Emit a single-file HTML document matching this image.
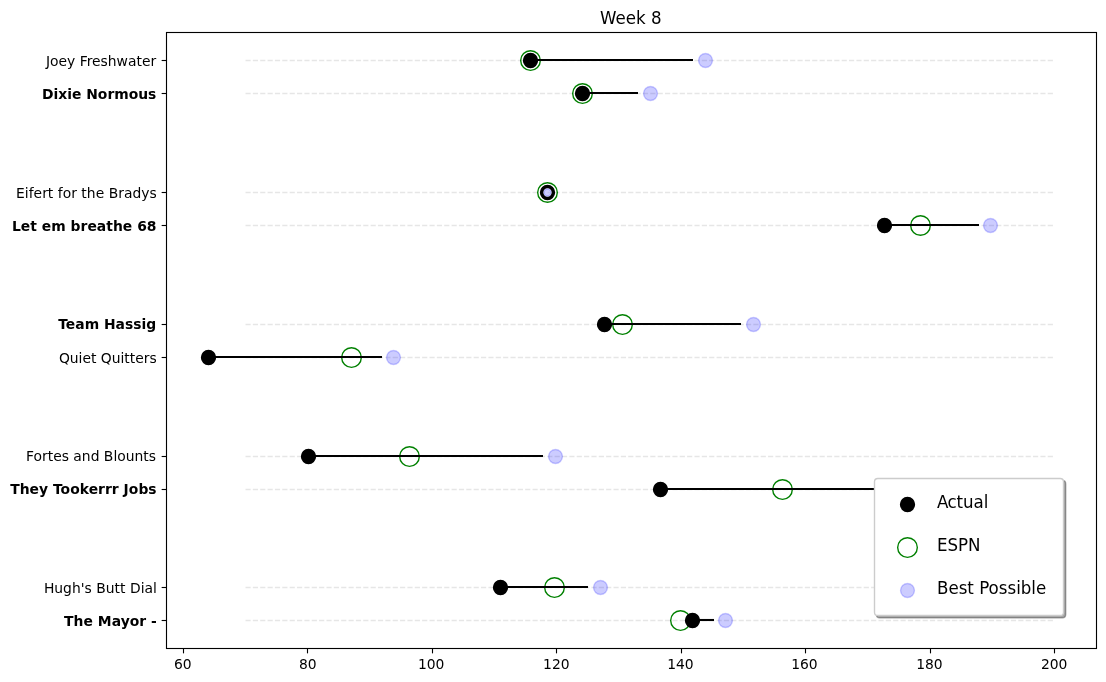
<!DOCTYPE html>
<html lang="en">
<head>
<meta charset="utf-8">
<title>Week 8</title>
<style>
html,body{margin:0;padding:0;background:#fff;}
body{width:1106px;height:682px;overflow:hidden;}
svg{display:block;}
text{font-family:"DejaVu Sans","Liberation Sans",sans-serif;fill:#000;}
.t10{font-size:13.889px;}
.t12{font-size:16.667px;}
.b{font-weight:bold;}
</style>
</head>
<body>
<svg width="1106" height="682" viewBox="0 0 1106 682">
<rect x="0" y="0" width="1106" height="682" fill="#fff"/>
<g stroke="#808080" stroke-opacity="0.2" stroke-width="1.39" stroke-dasharray="5.14 2.22" fill="none">
<line x1="245.5" y1="60.5" x2="1053.5" y2="60.5"/>
<line x1="245.5" y1="93.5" x2="1053.5" y2="93.5"/>
<line x1="245.5" y1="192.5" x2="1053.5" y2="192.5"/>
<line x1="245.5" y1="225.5" x2="1053.5" y2="225.5"/>
<line x1="245.5" y1="324.5" x2="1053.5" y2="324.5"/>
<line x1="245.5" y1="357.5" x2="1053.5" y2="357.5"/>
<line x1="245.5" y1="456.5" x2="1053.5" y2="456.5"/>
<line x1="245.5" y1="489.5" x2="1053.5" y2="489.5"/>
<line x1="245.5" y1="587.5" x2="1053.5" y2="587.5"/>
<line x1="245.5" y1="620.5" x2="1053.5" y2="620.5"/>
</g>
<g fill="none" stroke="#008000" stroke-width="1.39">
<circle cx="530.5" cy="60.5" r="9.82"/>
<circle cx="582.5" cy="93.5" r="9.82"/>
<circle cx="547.5" cy="192.5" r="9.82"/>
<circle cx="920.5" cy="225.5" r="9.82"/>
<circle cx="622.5" cy="324.5" r="9.82"/>
<circle cx="351.5" cy="357.5" r="9.82"/>
<circle cx="409.5" cy="456.5" r="9.82"/>
<circle cx="782.5" cy="489.5" r="9.82"/>
<circle cx="554.5" cy="587.5" r="9.82"/>
<circle cx="680.5" cy="620.5" r="9.82"/>
</g>
<g fill="#000" stroke="#000" stroke-width="1.39">
<circle cx="530.5" cy="60.5" r="6.94"/>
<circle cx="582.5" cy="93.5" r="6.94"/>
<circle cx="547.5" cy="192.5" r="6.94"/>
<circle cx="884.5" cy="225.5" r="6.94"/>
<circle cx="604.5" cy="324.5" r="6.94"/>
<circle cx="208.5" cy="357.5" r="6.94"/>
<circle cx="308.5" cy="456.5" r="6.94"/>
<circle cx="660.5" cy="489.5" r="6.94"/>
<circle cx="500.5" cy="587.5" r="6.94"/>
<circle cx="692.5" cy="620.5" r="6.94"/>
</g>
<g fill="#0000ff" fill-opacity="0.2" stroke="#0000ff" stroke-opacity="0.2" stroke-width="1.39">
<circle cx="705.5" cy="60.5" r="6.94"/>
<circle cx="650.5" cy="93.5" r="6.94"/>
<circle cx="990.5" cy="225.5" r="6.94"/>
<circle cx="753.5" cy="324.5" r="6.94"/>
<circle cx="393.5" cy="357.5" r="6.94"/>
<circle cx="555.5" cy="456.5" r="6.94"/>
<circle cx="961.5" cy="489.5" r="6.94"/>
<circle cx="600.5" cy="587.5" r="6.94"/>
<circle cx="725.5" cy="620.5" r="6.94"/>
</g>
<circle cx="547.5" cy="192.5" r="3.47" fill="#fff" stroke="#fff" stroke-width="1.39"/>
<circle cx="547.5" cy="192.5" r="3.47" fill="#0000ff" fill-opacity="0.2" stroke="#0000ff" stroke-opacity="0.2" stroke-width="1.39"/>
<line x1="547.6" y1="192.5" x2="549.8" y2="192.5" stroke="#808080" stroke-opacity="0.15" stroke-width="1.39"/>
<g stroke="#000" stroke-width="2.08" fill="none">
<line x1="530" y1="60" x2="693" y2="60"/>
<line x1="582" y1="93" x2="638" y2="93"/>
<line x1="884" y1="225" x2="979" y2="225"/>
<line x1="604" y1="324" x2="741" y2="324"/>
<line x1="208" y1="357" x2="382" y2="357"/>
<line x1="308" y1="456" x2="543" y2="456"/>
<line x1="660" y1="489" x2="950" y2="489"/>
<line x1="500" y1="587" x2="588" y2="587"/>
<line x1="692" y1="620" x2="714" y2="620"/>
</g>
<g stroke="#000" stroke-width="1.11" fill="none">
<line x1="183.5" y1="648.5" x2="183.5" y2="653.36"/>
<line x1="307.5" y1="648.5" x2="307.5" y2="653.36"/>
<line x1="432.5" y1="648.5" x2="432.5" y2="653.36"/>
<line x1="556.5" y1="648.5" x2="556.5" y2="653.36"/>
<line x1="681.5" y1="648.5" x2="681.5" y2="653.36"/>
<line x1="805.5" y1="648.5" x2="805.5" y2="653.36"/>
<line x1="930.5" y1="648.5" x2="930.5" y2="653.36"/>
<line x1="1054.5" y1="648.5" x2="1054.5" y2="653.36"/>
<line x1="166.5" y1="60.5" x2="161.64" y2="60.5"/>
<line x1="166.5" y1="93.5" x2="161.64" y2="93.5"/>
<line x1="166.5" y1="192.5" x2="161.64" y2="192.5"/>
<line x1="166.5" y1="225.5" x2="161.64" y2="225.5"/>
<line x1="166.5" y1="324.5" x2="161.64" y2="324.5"/>
<line x1="166.5" y1="357.5" x2="161.64" y2="357.5"/>
<line x1="166.5" y1="456.5" x2="161.64" y2="456.5"/>
<line x1="166.5" y1="489.5" x2="161.64" y2="489.5"/>
<line x1="166.5" y1="587.5" x2="161.64" y2="587.5"/>
<line x1="166.5" y1="620.5" x2="161.64" y2="620.5"/>
<rect x="166.5" y="32.5" width="930" height="616" stroke-linejoin="miter"/>
</g>
<g class="t10" text-anchor="middle">
<text x="182.815" y="668.6">60</text>
<text x="307.745" y="668.6">80</text>
<text x="431.175" y="668.6">100</text>
<text x="556.355" y="668.6">120</text>
<text x="680.41" y="668.6">140</text>
<text x="804.465" y="668.6">160</text>
<text x="929.395" y="668.6">180</text>
<text x="1054.2" y="668.6">200</text>
</g>
<g class="t10" text-anchor="end">
<text x="156.125" y="65.833">Joey Freshwater</text>
<text x="156.375" y="98.774" class="b">Dixie Normous</text>
<text x="156.75" y="197.598" textLength="140.75">Eifert for the Bradys</text>
<text x="156.5" y="230.539" textLength="144.625" class="b">Let em breathe 68</text>
<text x="156.125" y="328.962" class="b">Team Hassig</text>
<text x="156.625" y="362.704" textLength="97.75">Quiet Quitters</text>
<text x="156" y="460.727">Fortes and Blounts</text>
<text x="156.625" y="493.668" textLength="146.5" class="b">They Tookerrr Jobs</text>
<text x="156.875" y="592.892" textLength="113">Hugh&#39;s Butt Dial</text>
<text x="156.875" y="625.833" textLength="92.875" class="b">The Mayor -</text>
</g>
<text class="t12" transform="translate(630.75 23.6) scale(1 1.07)" text-anchor="middle">Week 8</text>
<rect x="876.42" y="480.39" width="189.25" height="137.33" rx="3.33" ry="3.33" fill="#4c4c4c" fill-opacity="0.5" stroke="#4c4c4c" stroke-opacity="0.5" stroke-width="1.39"/>
<rect x="874.5" y="478.5" width="189" height="137" rx="3.33" ry="3.33" fill="#fff" stroke="#cccccc" stroke-width="1.39"/>
<circle cx="907.5" cy="504.5" r="6.94" fill="#000" stroke="#000" stroke-width="1.39"/>
<circle cx="907.5" cy="547.5" r="9.82" fill="none" stroke="#008000" stroke-width="1.39"/>
<circle cx="907.5" cy="590.5" r="6.94" fill="#0000ff" fill-opacity="0.2" stroke="#0000ff" stroke-opacity="0.2" stroke-width="1.39"/>
<g class="t12">
<text transform="translate(935.97 507.93) scale(1 1.07)"><tspan dx="1">A</tspan><tspan dx="-1">ctual</tspan></text>
<text transform="translate(936.97 550.93) scale(1 1.07)">ESPN</text>
<text transform="translate(936.97 593.93) scale(1 1.07)">Best Possible</text>
</g>
</svg>
</body>
</html>
